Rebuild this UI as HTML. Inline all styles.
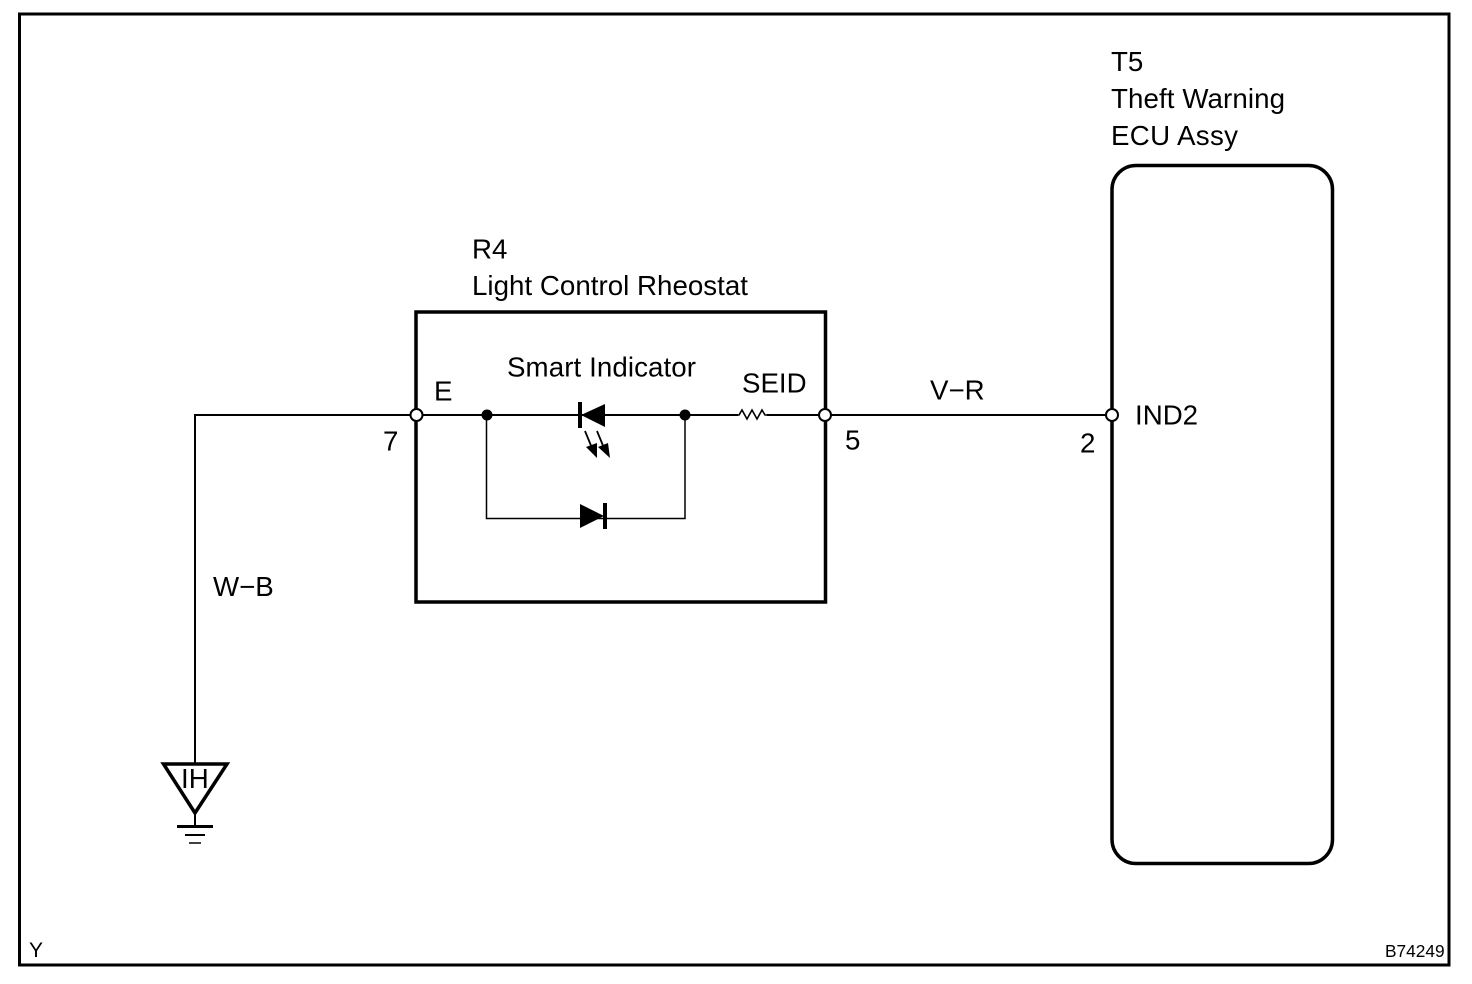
<!DOCTYPE html>
<html>
<head>
<meta charset="utf-8">
<style>
html,body{margin:0;padding:0;background:#fff;width:1472px;height:984px;overflow:hidden}
svg{display:block}
text{font-family:"Liberation Sans",Arial,sans-serif;fill:#000}
.t{font-size:27.7px}
</style>
</head>
<body>
<svg width="1472" height="984" viewBox="0 0 1472 984" xmlns="http://www.w3.org/2000/svg">
<rect x="0" y="0" width="1472" height="984" fill="#fff"/>
<!-- frame -->
<rect x="19.5" y="14" width="1429.500" height="951" fill="none" stroke="#000" stroke-width="3"/>

<!-- ECU box -->
<rect x="1112" y="165.500" width="220.500" height="698" rx="24" ry="24" fill="none" stroke="#000" stroke-width="3.500"/>

<!-- R4 box -->
<rect x="416" y="312" width="409.500" height="290" fill="none" stroke="#000" stroke-width="3.500"/>

<!-- wires -->
<path d="M195 763V415H738M767 415H1112" fill="none" stroke="#000" stroke-width="2"/>
<path d="M737 415l2 0 3-5 5 9 5-9 5 9 5-9 3 5h2" fill="none" stroke="#000" stroke-width="1.600"/>
<path d="M486.500 415V518.500H685V415" fill="none" stroke="#000" stroke-width="1.500"/>

<!-- junction dots -->
<circle cx="487" cy="415" r="5.500" fill="#000"/>
<circle cx="685" cy="415" r="5.500" fill="#000"/>

<!-- LED -->
<polygon points="605,404 605,427 581,415" fill="#000"/>
<rect x="578" y="402" width="4" height="26" fill="#000"/>
<path d="M585 431L592 448M597 431L604 448" stroke="#000" stroke-width="1.800" fill="none"/>
<polygon points="586,447 597,443 597,458" fill="#000"/>
<polygon points="598,447 608,443 610,458" fill="#000"/>

<!-- diode -->
<polygon points="580,504 580,528 604,516" fill="#000"/>
<rect x="603" y="503" width="4" height="26" fill="#000"/>

<!-- terminals -->
<circle cx="416.500" cy="415" r="6" fill="#fff" stroke="#000" stroke-width="2"/>
<circle cx="825" cy="415" r="6" fill="#fff" stroke="#000" stroke-width="2"/>
<circle cx="1112" cy="415" r="6" fill="#fff" stroke="#000" stroke-width="2"/>

<!-- ground -->
<polygon points="163.500,764 227,764 195,813" fill="#fff" stroke="#000" stroke-width="3.500" stroke-linejoin="miter"/>
<path d="M195 813V826" stroke="#000" stroke-width="2"/>
<path d="M177 826.500H213" stroke="#000" stroke-width="3"/>
<path d="M185 835H205" stroke="#000" stroke-width="2"/>
<path d="M189 843H201" stroke="#000" stroke-width="1.500"/>

<!-- labels -->
<text class="t" x="1111" y="71">T5</text>
<text class="t" x="1111" y="108" textLength="174">Theft Warning</text>
<text class="t" x="1111" y="145" textLength="127">ECU Assy</text>
<text class="t" x="472" y="258.500">R4</text>
<text class="t" x="472" y="295" textLength="276">Light Control Rheostat</text>
<text class="t" x="507" y="376.500" textLength="189">Smart Indicator</text>
<text class="t" x="434" y="400.500">E</text>
<text class="t" x="742" y="392.500">SEID</text>
<text class="t" x="383" y="450.500">7</text>
<text class="t" x="845" y="449.500">5</text>
<text class="t" x="930" y="399.500">V−R</text>
<text class="t" x="1080" y="452.500">2</text>
<text class="t" x="1135" y="424.500">IND2</text>
<text class="t" x="213" y="596">W−B</text>
<text class="t" x="181" y="788">IH</text>
<text x="29" y="957" font-size="21">Y</text>
<text x="1385" y="957" font-size="17.300">B74249</text>
</svg>
</body>
</html>
